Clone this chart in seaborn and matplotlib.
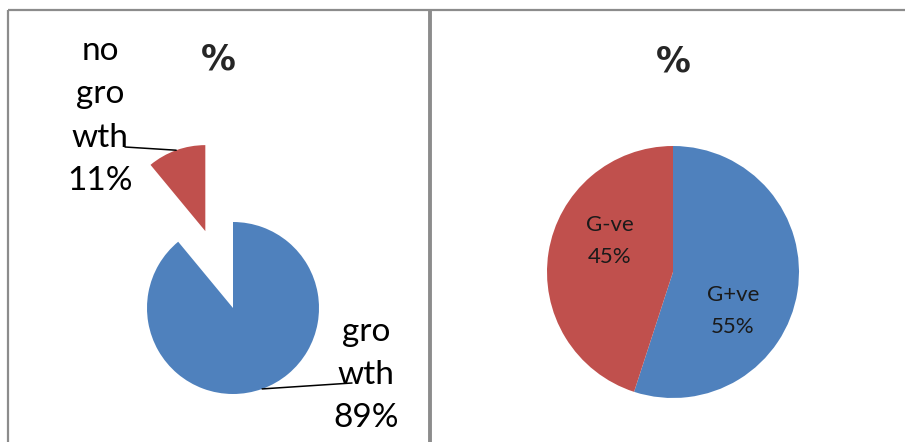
import numpy as np
import matplotlib
matplotlib.use("Agg")
import matplotlib.pyplot as plt
import seaborn as sns

# ---- data ----
growth_labels = ["gro\nwth", "no\ngro\nwth"]
growth_values = [89, 11]
gram_labels = ["G+ve", "G-ve"]
gram_values = [55, 45]
titles = ["%", "%"]

sns.set_theme(style="white")
plt.rcParams['font.family'] = ['Lato', 'DejaVu Sans']

colors = ["#4F81BD", "#C0504D"]
W, H = 905, 442
fig = plt.figure(figsize=(W / 100, H / 100), dpi=100)
ax = fig.add_axes([0, 0, 1, 1])

def Y(y):  # pixel-from-top -> data y
    return H - y

def fix_axes():
    ax.set_xlim(0, W); ax.set_ylim(0, H); ax.set_aspect('equal'); ax.axis('off')

# panel borders
border = "#8c8c8c"
ax.plot([8, 8], [Y(10), Y(H + 5)], color=border, lw=1.6, solid_capstyle='butt')
ax.plot([8, W + 5], [Y(10), Y(10)], color=border, lw=1.6, solid_capstyle='butt')
ax.plot([429.5, 429.5], [Y(10), Y(H + 5)], color=border, lw=2.8, solid_capstyle='butt')

# ---- left pie ----
c1 = (233, Y(308)); r1 = 86
wedges1, _ = ax.pie(growth_values, colors=colors, startangle=90, counterclock=False,
                    center=c1, radius=r1, explode=[0, 0.95 * r1],
                    wedgeprops=dict(linewidth=0), frame=True)
fix_axes()

pct1 = [f"{v}%" for v in growth_values]
lab_pos1 = [(366, Y(375)), (100, Y(116))]
line_end1 = [(352, Y(383)), (125, Y(147))]
for w, lab, p, pos, le in zip(wedges1, growth_labels, pct1, lab_pos1, line_end1):
    ang = np.deg2rad((w.theta1 + w.theta2) / 2)
    cx, cy = w.center
    sx, sy = cx + w.r * np.cos(ang), cy + w.r * np.sin(ang)
    ax.plot([sx, le[0]], [sy, le[1]], color="black", lw=1.1)
    ax.text(pos[0], pos[1], f"{lab}\n{p}", ha='center', va='center',
            fontsize=24, linespacing=1.55, color="black")

ax.text(218, Y(60), titles[0], ha='center', va='center', fontsize=25,
        fontweight='bold', family=['DejaVu Sans'])

# ---- right pie ----
c2 = (673, Y(272)); r2 = 126
wedges2, _ = ax.pie(gram_values, colors=colors, startangle=90, counterclock=False,
                    center=c2, radius=r2, wedgeprops=dict(linewidth=0), frame=True)
fix_axes()

lab_pos2 = [(733, Y(311)), (610, Y(241))]
for lab, v, pos in zip(gram_labels, gram_values, lab_pos2):
    ax.text(pos[0], pos[1], f"{lab}\n{v}%", ha='center', va='center',
            fontsize=16, linespacing=1.7, color="#1a1a1a")

ax.text(673, Y(62), titles[1], ha='center', va='center', fontsize=25,
        fontweight='bold', family=['DejaVu Sans'])

fig.savefig("out.png", dpi=100)
